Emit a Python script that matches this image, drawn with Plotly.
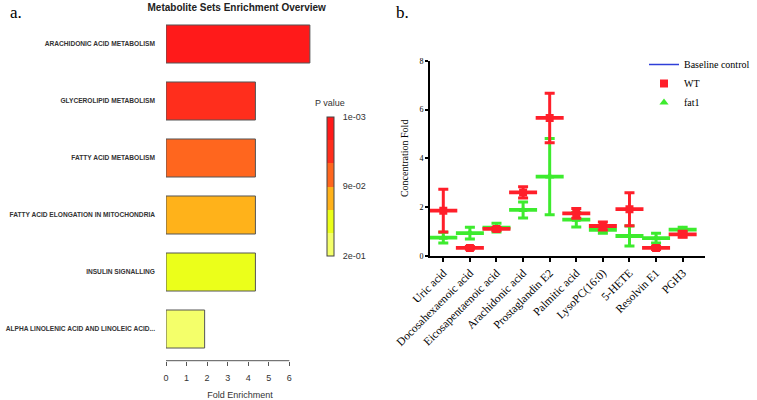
import plotly.graph_objects as go

# ---- Panel a data ----
pathways = ["ARACHIDONIC ACID METABOLISM", "GLYCEROLIPID METABOLISM", "FATTY ACID METABOLISM",
            "FATTY ACID ELONGATION IN MITOCHONDRIA", "INSULIN SIGNALLING",
            "ALPHA LINOLENIC ACID AND LINOLEIC ACID..."]
fold_enrichment = [7.0, 4.35, 4.35, 4.35, 4.35, 1.88]
p_values = [0.0012, 0.045, 0.075, 0.11, 0.15, 0.195]
pbar_ticks = [0.001, 0.1005, 0.2]
pbar_labels = ["1e-03", "9e-02", "2e-01"]
fe_ticks = [0, 1, 2, 3, 4, 5, 6]

# ---- Panel b data ----
metabolites = ["Uric acid", "Docosahexaenoic acid", "Eicosapentaenoic acid", "Arachidonic acid",
               "Prostaglandin E2", "Palmitic acid", "LysoPC(16:0)", "5-HETE", "Resolvin E1", "PGH3"]
wt_mean = [1.85, 0.32, 1.10, 2.60, 5.66, 1.74, 1.22, 1.91, 0.32, 0.88]
wt_err = [0.88, 0.06, 0.06, 0.23, 1.02, 0.20, 0.16, 0.68, 0.07, 0.12]
fat1_mean = [0.74, 0.93, 1.15, 1.88, 3.25, 1.48, 1.06, 0.81, 0.72, 1.07]
fat1_err = [0.22, 0.24, 0.18, 0.33, 1.57, 0.30, 0.14, 0.41, 0.20, 0.10]
baseline = 0.95
conc_ticks = [0, 2, 4, 6, 8]

W, H = 757, 400
bands = ["#F4FF6A", "#EBFF1A", "#FFB21A", "#FF661E", "#FF2E1C", "#FF1A1A"]
cscale = []
for i, c in enumerate(bands):
    cscale.append([i / 6, c])
    cscale.append([(i + 1) / 6, c])

fig = go.Figure()

fig.add_trace(go.Bar(
    x=fold_enrichment, y=list(range(len(pathways))), orientation="h",
    width=0.667,
    marker=dict(color=[-p for p in p_values], cmin=-0.2, cmax=-0.001, colorscale=cscale,
                line=dict(color="#555555", width=1),
                showscale=True,
                colorbar=dict(x=326.7 / W, xanchor="left", y=1 - 116.7 / H, yanchor="top",
                              len=139 / H, lenmode="fraction", thickness=7,
                              xpad=0, ypad=0, outlinecolor="#444444", outlinewidth=1,
                              tickvals=[-v for v in pbar_ticks], ticktext=pbar_labels,
                              ticks="outside", ticklen=7, tickcolor="rgba(0,0,0,0)",
                              tickfont=dict(family="Liberation Sans", size=9, color="#333"))),
    xaxis="x", yaxis="y", showlegend=False,
))

# Panel b traces: fat1 first, WT on top
def group(name, means, errs, color, symbol, rank):
    fig.add_trace(go.Scatter(
        x=metabolites, y=means, mode="markers",
        marker=dict(symbol="line-ew", size=20, line=dict(color=color, width=3.8)),
        error_y=dict(type="data", array=errs, color=color, thickness=3, width=5),
        xaxis="x2", yaxis="y2", showlegend=False, hoverinfo="skip"))
    fig.add_trace(go.Scatter(
        x=metabolites, y=means, mode="markers", name=name,
        marker=dict(symbol=symbol, size=8, color=color),
        xaxis="x2", yaxis="y2", legendrank=rank))

group("fat1", fat1_mean, fat1_err, "#3DEB2E", "triangle-up", 3)
group("WT", wt_mean, wt_err, "#FF1F2A", "square", 2)

fig.add_trace(go.Scatter(
    x=[-0.5, 9.84], y=[baseline, baseline], mode="lines", name="Baseline control",
    line=dict(color="#2F3FD8", width=1.5), xaxis="x2", yaxis="y2", legendrank=1, hoverinfo="skip"))

# fold enrichment axis line spanning tick range
fig.add_shape(type="line", xref="x", yref="paper", x0=fe_ticks[0], x1=fe_ticks[-1],
              y0=1 - 360.7 / H, y1=1 - 360.7 / H, line=dict(color="#555555", width=1))

fig.update_layout(
    width=W, height=H, margin=dict(l=0, r=0, t=0, b=0, autoexpand=False),
    paper_bgcolor="white", plot_bgcolor="white",
    title=dict(text="<b>Metabolite Sets Enrichment Overview</b>", x=236.7 / W, xanchor="center",
               y=1 - 7 / H, yanchor="middle",
               font=dict(family="Liberation Sans", size=10, color="#222")),
    xaxis=dict(domain=[166 / W, 314 / W], range=[0, 7.2], tickvals=fe_ticks, showgrid=False,
               zeroline=False, showline=False, ticks="outside", ticklen=4, tickcolor="#555",
               ticklabelstandoff=4,
               tickfont=dict(family="Liberation Sans", size=9, color="#333"),
               title=dict(text="Fold Enrichment", standoff=14,
                          font=dict(family="Liberation Sans", size=9, color="#333"))),
    yaxis=dict(domain=[1 - 360.7 / H, 1 - 15.5 / H], range=[5.556, -0.5],
               tickvals=list(range(len(pathways))), ticktext=pathways, showgrid=False,
               zeroline=False, showline=False, ticks="", ticklabelstandoff=10,
               tickfont=dict(family="Liberation Sans", size=6.6, color="#333", weight="bold")),
    xaxis2=dict(domain=[430 / W, 705 / W], range=[-0.5, 9.84], showgrid=False, zeroline=False,
                showline=True, linecolor="black", linewidth=2, ticks="outside", ticklen=4,
                tickwidth=2, tickcolor="black", tickangle=-45, anchor="y2",
                tickfont=dict(family="Liberation Serif", size=11.5, color="black")),
    yaxis2=dict(domain=[1 - 255.7 / H, 1 - 61 / H], range=[0, 8], tickvals=conc_ticks,
                showgrid=False, zeroline=False, showline=True, linecolor="black", linewidth=2,
                ticks="outside", ticklen=3, tickwidth=2, tickcolor="black", anchor="x2",
                tickfont=dict(family="Liberation Serif", size=8, color="black"),
                title=dict(text="Concentration Fold", standoff=9,
                           font=dict(family="Liberation Serif", size=10, color="black"))),
    legend=dict(x=644 / W, y=1 - 50 / H, xanchor="left", yanchor="top",
                font=dict(family="Liberation Serif", size=10, color="black"),
                bgcolor="rgba(0,0,0,0)", itemwidth=30),
    annotations=[
        dict(text="a.", x=8 / W, y=1 - 12 / H, xref="paper", yref="paper", showarrow=False,
             xanchor="left", yanchor="middle", font=dict(family="Liberation Serif", size=17, color="black")),
        dict(text="b.", x=394 / W, y=1 - 12 / H, xref="paper", yref="paper", showarrow=False,
             xanchor="left", yanchor="middle", font=dict(family="Liberation Serif", size=17, color="black")),
        dict(text="P value", x=330 / W, y=1 - 103 / H, xref="paper", yref="paper", showarrow=False,
             xanchor="center", yanchor="middle", font=dict(family="Liberation Sans", size=9, color="#333")),
    ],
)

fig.write_html("out.html")
